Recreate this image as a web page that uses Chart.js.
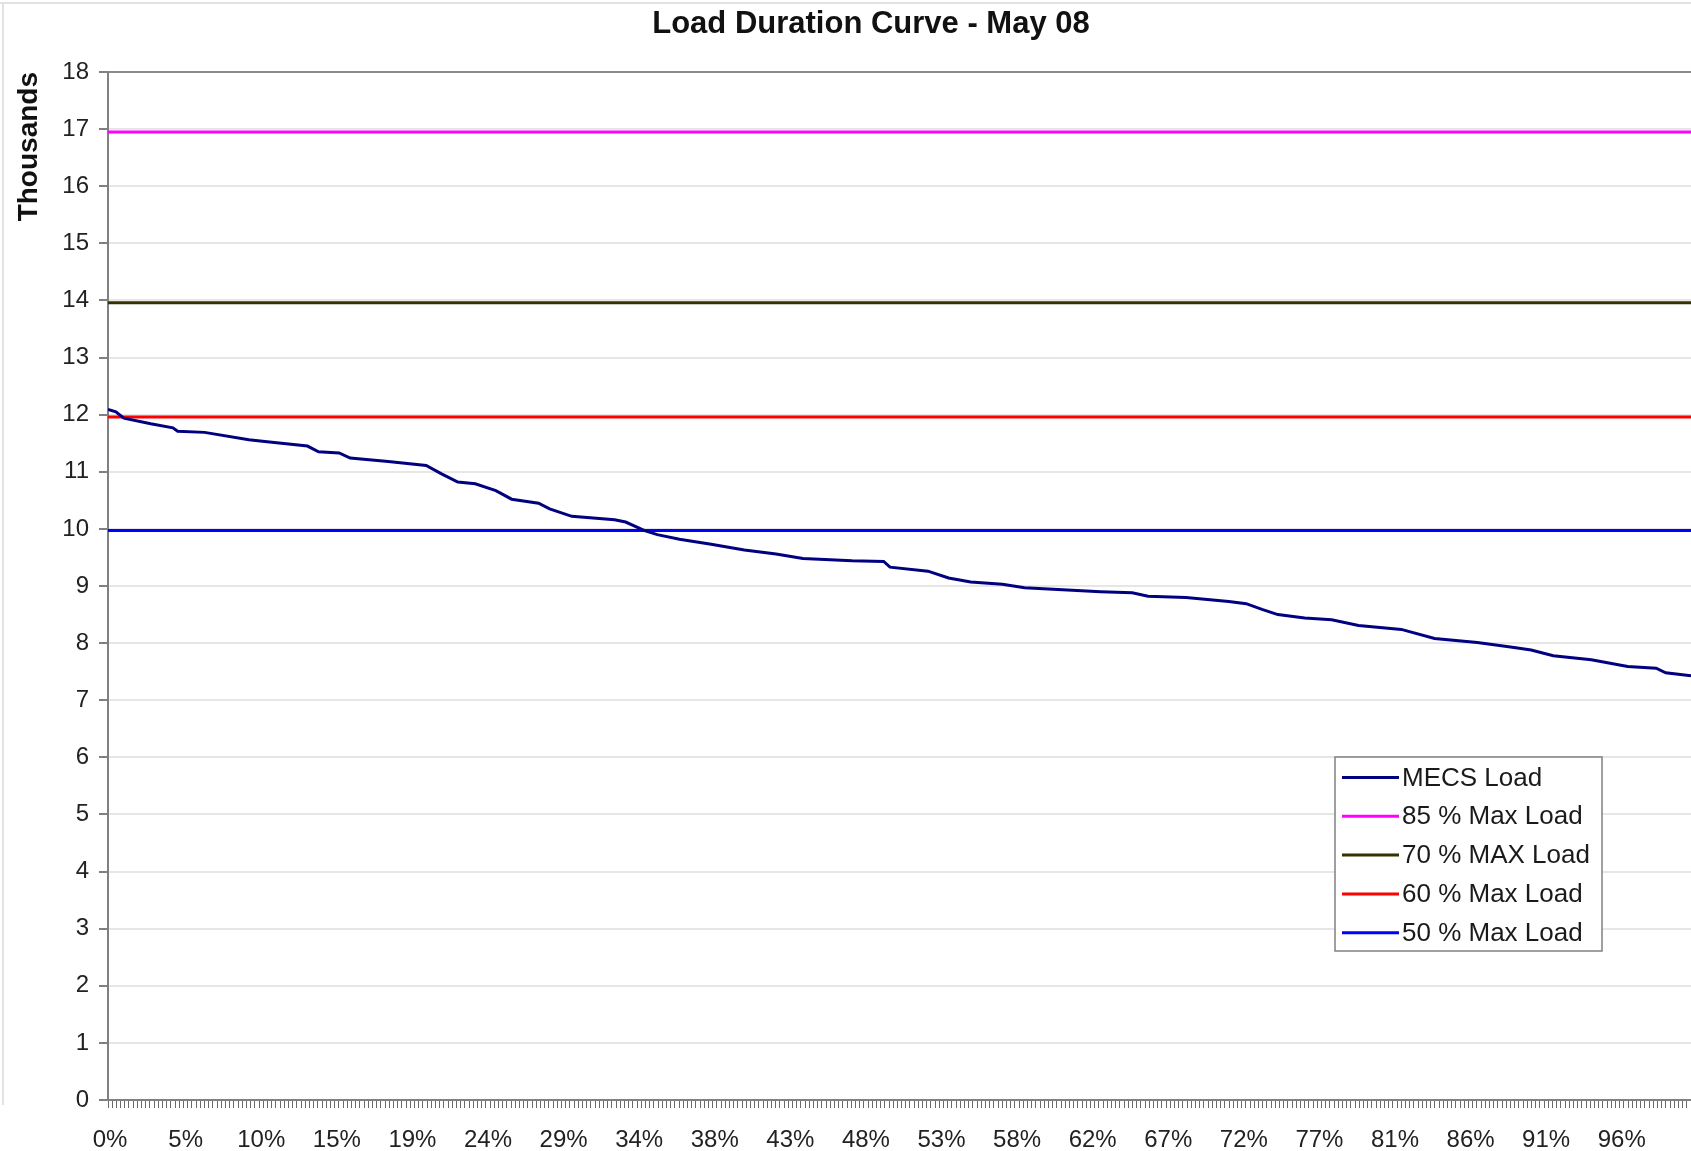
<!DOCTYPE html>
<html>
<head>
<meta charset="utf-8">
<script src="https://cdn.jsdelivr.net/npm/chart.js@4.4.1/dist/chart.umd.min.js"></script>
<style>
  html, body { margin: 0; padding: 0; background: #fff; }
</style>
</head>
<body>
<canvas id="ldc" width="1691" height="1151"></canvas>
<script>
// x axis: Excel category axis, 377 categories, a label every 18th
const categoryCount = 377;
const labelEvery = 18;
const xTickLabels = ['0%','5%','10%','15%','19%','24%','29%','34%','38%','43%','48%','53%','58%',
                     '62%','67%','72%','77%','81%','86%','91%','96%'];

// MECS load (thousands) against % of time
const rankPct = [0,0.5,1.0,2.7,4.1,4.4,6.1,8.9,10.2,12.6,13.3,14.6,15.3,17.7,20.1,21.1,22.1,23.2,24.5,25.5,
                 27.2,27.9,29.3,32.0,32.7,33.9,34.7,36.1,38.1,40.2,42.2,43.9,47.0,49.0,49.4,51.8,53.1,54.5,56.5,57.9,
                 60.6,62.7,64.7,65.7,68.1,70.8,71.9,72.9,73.9,75.6,77.3,79.0,81.7,83.8,86.5,88.6,89.9,91.3,93.7,96.0,
                 97.8,98.4,100];
const mecsLoad = [12.09,12.05,11.94,11.84,11.77,11.71,11.69,11.56,11.52,11.45,11.35,11.33,11.24,11.18,11.11,10.96,10.82,10.79,10.67,10.52,
                  10.45,10.35,10.22,10.16,10.12,9.97,9.90,9.82,9.73,9.63,9.56,9.48,9.44,9.43,9.33,9.26,9.14,9.07,9.03,8.97,
                  8.93,8.90,8.88,8.82,8.80,8.73,8.69,8.59,8.50,8.44,8.41,8.31,8.24,8.08,8.01,7.93,7.88,7.78,7.71,7.59,
                  7.56,7.48,7.43];

// flat reference lines
const limitLabels = ['85 % Max Load', '70 % MAX Load', '60 % Max Load', '50 % Max Load'];
const limitValues = [16.95, 13.96, 11.96, 9.97];
const limitColors = ['#ff00ff', '#333300', '#ff0000', '#0000ff'];

const FONT = '"Liberation Sans", Arial, sans-serif';
Chart.defaults.font.family = FONT;

function isLabelTick(v) {
  var k = (v * categoryCount / 100 - 0.5) / labelEvery;
  var j = Math.round(k);
  return Math.abs(k - j) < 1e-6 && j >= 0 && j < xTickLabels.length ? j : -1;
}

var datasets = [{
  label: 'MECS Load',
  data: rankPct.map(function (p, i) { return {x: p, y: mecsLoad[i]}; }),
  borderColor: '#000080',
  borderWidth: 3,
  pointRadius: 0,
  tension: 0
}];
for (var i = 0; i < limitLabels.length; i++) {
  datasets.push({
    label: limitLabels[i],
    data: [{x: 0, y: limitValues[i]}, {x: 100, y: limitValues[i]}],
    borderColor: limitColors[i],
    borderWidth: 3,
    pointRadius: 0
  });
}

// title, outer frame and the boxed legend inside the plot
var decor = {
  id: 'decor',
  beforeDraw: function (chart) {
    var ctx = chart.ctx;
    ctx.save();
    ctx.strokeStyle = '#e2e2e2';
    ctx.lineWidth = 2;
    ctx.beginPath();
    ctx.moveTo(0, 3); ctx.lineTo(chart.width, 3);
    ctx.moveTo(3, 3); ctx.lineTo(3, 1105);
    ctx.stroke();
    ctx.restore();
  },
  afterDraw: function (chart) {
    var ctx = chart.ctx;
    ctx.save();
    ctx.fillStyle = '#111';
    ctx.font = 'bold 31px ' + FONT;
    ctx.textAlign = 'center';
    ctx.textBaseline = 'middle';
    ctx.fillText('Load Duration Curve - May 08', 871, 24);

    var bx = 1335, by = 757, bw = 267, bh = 194, rowH = 38.8;
    ctx.fillStyle = '#fff';
    ctx.fillRect(bx, by, bw, bh);
    ctx.strokeStyle = '#808080';
    ctx.lineWidth = 1.5;
    ctx.strokeRect(bx, by, bw, bh);
    ctx.font = '26px ' + FONT;
    ctx.textAlign = 'left';
    chart.data.datasets.forEach(function (ds, k) {
      var cy = by + 20.5 + k * rowH;
      ctx.strokeStyle = ds.borderColor;
      ctx.lineWidth = 3;
      ctx.beginPath();
      ctx.moveTo(bx + 7, cy); ctx.lineTo(bx + 64, cy);
      ctx.stroke();
      ctx.fillStyle = '#1a1a1a';
      ctx.fillText(ds.label, bx + 67, cy + 1);
    });
    ctx.restore();
  }
};

new Chart(document.getElementById('ldc'), {
  type: 'line',
  data: {datasets: datasets},
  plugins: [decor],
  options: {
    responsive: false,
    animation: false,
    layout: {padding: {top: 72, right: 0, bottom: 0, left: 0}},
    plugins: {legend: {display: false}, title: {display: false}, tooltip: {enabled: false}},
    scales: {
      x: {
        type: 'linear',
        min: 0,
        max: 100,
        afterBuildTicks: function (scale) {
          var t = [];
          for (var i = 0; i <= categoryCount; i++) t.push({value: i * 100 / categoryCount});
          for (var j = 0; j < xTickLabels.length; j++) t.push({value: (j * labelEvery + 0.5) * 100 / categoryCount});
          t.sort(function (a, b) { return a.value - b.value; });
          scale.ticks = t;
        },
        afterFit: function (scale) {
          scale.height = 51;
          scale.paddingRight = 0;
          scale.paddingLeft = 0;
        },
        ticks: {
          autoSkip: false,
          maxRotation: 0,
          minRotation: 0,
          padding: 18,
          color: '#222',
          font: {size: 24},
          callback: function (v) {
            var j = isLabelTick(v);
            return j >= 0 ? xTickLabels[j] : '';
          }
        },
        grid: {
          drawOnChartArea: false,
          tickLength: 8,
          tickWidth: 1,
          tickColor: function (c) { return isLabelTick(c.tick.value) >= 0 ? 'rgba(0,0,0,0)' : '#6a6a6a'; }
        },
        border: {color: '#808080', width: 2}
      },
      y: {
        min: 0,
        max: 18,
        afterFit: function (scale) { scale.width = 108; },
        ticks: {stepSize: 1, padding: 10, color: '#222', font: {size: 24}},
        grid: {
          color: function (c) { return c.tick.value === 18 ? '#8a8a8a' : '#e6e6e6'; },
          lineWidth: 2,
          tickLength: 9,
          tickColor: '#808080'
        },
        border: {color: '#808080', width: 2},
        title: {
          display: true,
          text: 'Thousands',
          align: 'end',
          color: '#111',
          font: {size: 28, weight: 'bold'},
          padding: {top: 12, bottom: 0}
        }
      }
    }
  }
});
</script>
</body>
</html>
